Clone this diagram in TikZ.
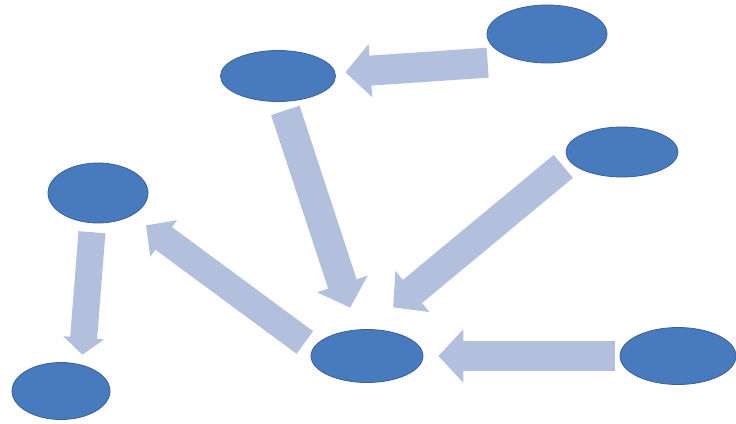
\documentclass[tikz,border=0pt]{standalone}
\usetikzlibrary{shapes.geometric,arrows.meta}
\definecolor{nodeblue}{RGB}{72,122,190}
\definecolor{nodeedge}{RGB}{60,96,148}
\definecolor{arrowblue}{RGB}{178,192,222}
\tikzset{
  blob/.style={ellipse, draw=nodeedge, line width=0.8pt, fill=nodeblue, inner sep=0pt},
  fat/.style={draw=arrowblue, line width=30pt, -{Triangle[length=25pt,width=52pt]}},
}
\begin{document}
\begin{tikzpicture}[x=1pt,y=-1pt]
            \useasboundingbox (0,0) rectangle (736,423);

            \node[blob, minimum width=120pt, minimum height=58pt] (1) at (547,34) {};
            \node[blob, minimum width=115pt, minimum height=51pt] (2) at (278,76) {};
            \node[blob, minimum width=112pt, minimum height=50pt] (3) at (622,152) {};
            \node[blob, minimum width=100pt, minimum height=60pt] (4) at (98,193) {};
            \node[blob, minimum width=112pt, minimum height=53pt] (5) at (367,356) {};
            \node[blob, minimum width=116pt, minimum height=57pt] (6) at (678,356) {};
            \node[blob, minimum width=98pt, minimum height=57pt] (7) at (61,391) {};

            \draw[fat, shorten <=33pt, shorten >=10pt] (1.225) -- (2.3);
            \draw[fat, shorten <=9pt, shorten >=23pt] (2.-80) -- (5.110);
            \draw[fat, shorten <=8pt, shorten >=34pt] (3.190) -- (5.north);
            \draw[fat, -{Triangle[length=22pt,width=44pt]}, line width=28pt,
                  shorten <=10pt, shorten >=17pt] (5.172) -- (4.-33);
            \draw[fat, shorten <=5pt, shorten >=15pt] (6.west) -- (5.east);
            \draw[fat, -{Triangle[length=17pt,width=40pt]}, line width=27pt,
                  shorten <=9pt, shorten >=10pt] (4.260) -- (7.52);
        \end{tikzpicture}
\end{document}
